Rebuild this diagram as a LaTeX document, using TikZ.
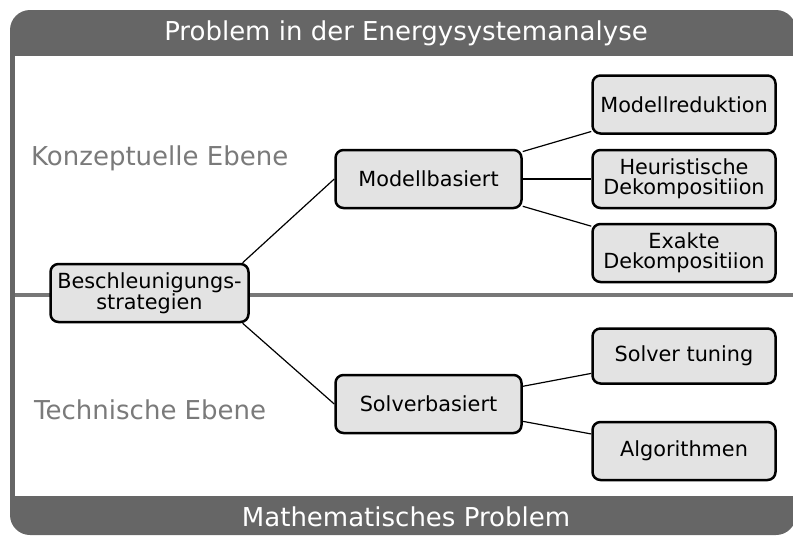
\documentclass[tikz,border=0pt]{standalone}
\usepackage{fontspec}
\setmainfont{DejaVu Sans}
\definecolor{barcol}{HTML}{666666}
\definecolor{linecol}{HTML}{777777}
\definecolor{boxcol}{HTML}{E3E3E3}
\definecolor{textcol}{HTML}{7A7A7A}
\begin{document}
\begin{tikzpicture}[x=1pt,y=-1pt,inner sep=2pt,
  box/.style={draw,line width=2.5pt,rounded corners=8pt,fill=boxcol,
    minimum height=58pt,align=center,font=\fontsize{20.8}{19.5}\selectfont},
  level/.style={anchor=west,text=textcol,font=\fontsize{26}{30}\selectfont}]
\useasboundingbox (0,0) rectangle (793,536);
% frame
\fill[barcol,rounded corners=20pt] (10,10) rectangle (796,535);
\fill[white] (15,56) rectangle (796,496);
\draw[linecol,line width=4pt] (15,295) -- (796,295);
\node[text=white,font=\fontsize{26}{30}\selectfont] (top) at (406,33) {Problem in der Energysystemanalyse};
\node[text=white,font=\fontsize{26}{30}\selectfont] (bot) at (406,517) {Mathematisches Problem};
\node[level] (e1) at (29,158) {Konzeptuelle Ebene};
\node[level] (e2) at (32,410) {Technische Ebene};

\node[box,minimum width=198pt] (n0) at (149.5,293) {Beschleunigungs-\\strategien};
\node[box,minimum width=186pt] (n1) at (428.5,179) {Modellbasiert};
\node[box,minimum width=186pt] (n2) at (428.5,404) {Solverbasiert};
\node[box,minimum width=183pt] (n11) at (684,104.5) {Modellreduktion};
\node[box,minimum width=183pt] (n12) at (684,179) {Heuristische\\Dekompositiion};
\node[box,minimum width=183pt] (n13) at (684,253) {Exakte\\Dekompositiion};
\node[box,minimum width=183pt,minimum height=55pt] (n21) at (684,356) {Solver tuning};
\node[box,minimum width=183pt] (n22) at (684,451) {Algorithmen};

\draw[line width=1.2pt] (n0.18) -- (n1.west);
\draw[line width=1.2pt] (n0.-18) -- (n2.west);
\draw[line width=1.2pt] (n1) -- (n11);
\draw[line width=1.2pt] (n1) -- (n12);
\draw[line width=1.2pt] (n1) -- (n13);
\draw[line width=1.2pt] (n2) -- (n21);
\draw[line width=1.2pt] (n2) -- (n22);
\end{tikzpicture}
\end{document}
